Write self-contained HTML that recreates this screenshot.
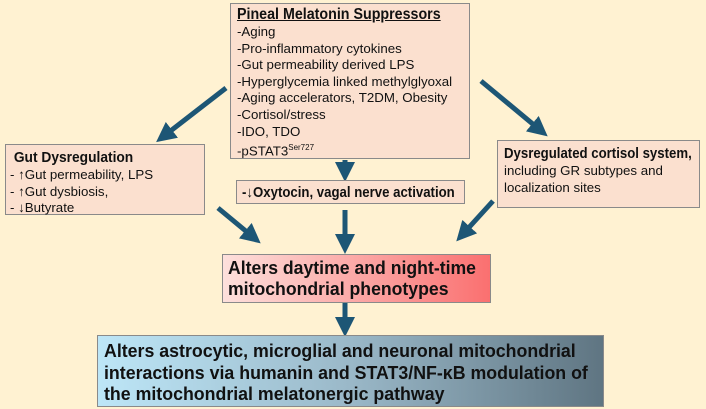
<!DOCTYPE html>
<html><head><style>
body{margin:0;width:706px;height:409px;background:#fff2d2;position:relative;overflow:hidden;font-family:"Liberation Sans",sans-serif;color:#111}
.b{position:absolute;box-sizing:border-box;border:1px solid #8a8a8a;background:#fbe0cf}
.i{transform-origin:0 0;width:125%;white-space:nowrap;display:block}
.t{font-size:13.3px;line-height:16.6px;white-space:nowrap}
</style></head><body>
<svg width="706" height="409" style="position:absolute;left:0;top:0">
<defs><marker id="a" markerWidth="4" markerHeight="4" refX="2" refY="2" orient="auto" markerUnits="strokeWidth"><path d="M0,0L4,2L0,4z" fill="#1d5675"/></marker></defs>
<g stroke="#1d5675" stroke-width="5" marker-end="url(#a)">
<line x1="226" y1="88" x2="164" y2="136"/>
<line x1="481" y1="81" x2="540" y2="130"/>
<line x1="345" y1="160" x2="345" y2="172"/>
<line x1="345" y1="210" x2="345" y2="244"/>
<line x1="218" y1="208" x2="253" y2="237"/>
<line x1="493" y1="201" x2="463" y2="234"/>
<line x1="345" y1="303" x2="345" y2="327"/>
</g></svg>
<div class="b t" style="left:230px;top:3px;width:240px;height:156px;padding:3px 0 0 6px">
<b class="i" style="font-size:15.5px;text-decoration:underline;transform:scaleX(.92);height:17px">Pineal Melatonin Suppressors</b>-Aging<br>-Pro-inflammatory cytokines<br>-Gut permeability derived LPS<br>-Hyperglycemia linked methylglyoxal<br>-Aging accelerators, T2DM, Obesity<br>-Cortisol/stress<br>-IDO, TDO<br>-pSTAT3<sup style="font-size:8px">Ser727</sup></div>
<div class="b t" style="left:5px;top:144px;width:200px;height:71px;padding:5px 0 0 4px">
<b class="i" style="font-size:14.5px;transform:scaleX(.95);height:17px">&nbsp;Gut Dysregulation</b>- ↑Gut permeability, LPS<br>- ↑Gut dysbiosis,<br>- ↓Butyrate</div>
<div class="b t" style="left:497px;top:140px;width:203px;height:68px;padding:5px 0 0 6px">
<b class="i" style="font-size:14.5px;transform:scaleX(.91);height:17px">Dysregulated cortisol system,</b>including GR subtypes and<br>localization sites</div>
<div class="b" style="left:236px;top:180px;width:229px;height:24px;padding:3px 0 0 5px;font-size:15px;font-weight:bold"><div class="i" style="transform:scaleX(.88)">-↓Oxytocin, vagal nerve activation</div></div>
<div class="b" style="left:222px;top:254px;width:269px;height:49px;padding:3px 0 0 5px;font-size:18px;line-height:21px;font-weight:bold;background:linear-gradient(90deg,#fde0dc,#fa7070)"><div class="i" style="transform:scaleX(.98)">Alters daytime and night-time<br>mitochondrial phenotypes</div></div>
<div class="b" style="left:97px;top:335px;width:507px;height:72px;padding:4px 0 0 6px;font-size:18.5px;line-height:21.5px;font-weight:bold;background:linear-gradient(90deg,#bde6f7,#9ab8c8 50%,#5f7582)"><div class="i" style="transform:scaleX(.96)">Alters astrocytic, microglial and neuronal mitochondrial<br>interactions via humanin and STAT3/NF-κB modulation of<br>the mitochondrial melatonergic pathway</div></div>
</body></html>
